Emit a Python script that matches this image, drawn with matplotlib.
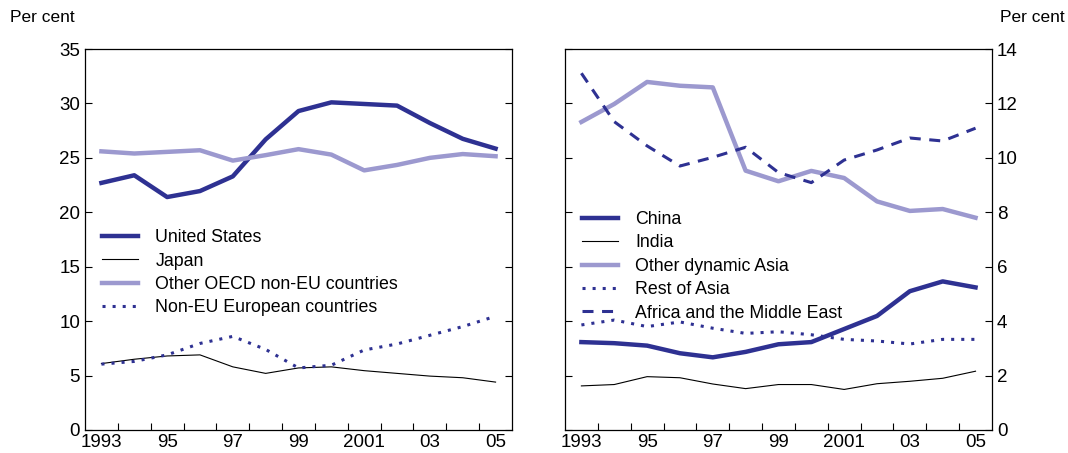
import matplotlib.pyplot as plt
import numpy as np

plt.rcParams['font.family'] = ['Liberation Sans', 'DejaVu Sans']

years = list(range(1993, 2006))
year_labels = ["1993", "95", "97", "99", "2001", "03", "05"]

# left panel
united_states = [22.7, 23.4, 21.4, 21.95, 23.3, 26.7, 29.3, 30.1, 29.95, 29.8, 28.2, 26.75, 25.85]
japan = [6.1, 6.5, 6.8, 6.9, 5.8, 5.2, 5.7, 5.8, 5.45, 5.2, 4.95, 4.8, 4.4]
other_oecd = [25.6, 25.4, 25.55, 25.7, 24.75, 25.25, 25.8, 25.3, 23.85, 24.35, 25.0, 25.35, 25.15]
non_eu_europe = [6.05, 6.3, 6.9, 7.95, 8.6, 7.4, 5.7, 5.95, 7.35, 7.9, 8.7, 9.5, 10.45]

# right panel
china = [3.23, 3.19, 3.1, 2.82, 2.67, 2.87, 3.15, 3.23, 3.71, 4.19, 5.1, 5.46, 5.24]
india = [1.62, 1.67, 1.96, 1.92, 1.69, 1.52, 1.67, 1.67, 1.49, 1.7, 1.79, 1.9, 2.16]
other_dyn_asia = [11.32, 11.98, 12.79, 12.65, 12.59, 9.53, 9.14, 9.52, 9.26, 8.4, 8.05, 8.12, 7.8]
rest_of_asia = [3.86, 4.04, 3.8, 3.97, 3.74, 3.55, 3.61, 3.5, 3.33, 3.27, 3.16, 3.33, 3.33]
africa_me = [13.11, 11.33, 10.44, 9.7, 10.02, 10.39, 9.46, 9.09, 9.92, 10.29, 10.73, 10.62, 11.09]

dark = "#2e3192"
light = "#9c99cf"

fig = plt.figure(figsize=(10.68, 4.53), dpi=100)
ax1 = fig.add_axes([0.0796, 0.0508, 0.3998, 0.841])
ax2 = fig.add_axes([0.529, 0.0508, 0.3998, 0.841])

x = np.arange(len(years))

ax1.plot(x, united_states, color=dark, lw=3.2, label="United States")
ax1.plot(x, japan, color="black", lw=0.8, label="Japan")
ax1.plot(x, other_oecd, color=light, lw=3.2, label="Other OECD non-EU countries")
ax1.plot(x, non_eu_europe, color=dark, lw=2.2, ls=(0, (1, 2.3)), label="Non-EU European countries")

ax2.plot(x, china, color=dark, lw=3.2, label="China")
ax2.plot(x, india, color="black", lw=0.8, label="India")
ax2.plot(x, other_dyn_asia, color=light, lw=3.2, label="Other dynamic Asia")
ax2.plot(x, rest_of_asia, color=dark, lw=2.2, ls=(0, (1, 2.3)), label="Rest of Asia")
ax2.plot(x, africa_me, color=dark, lw=2.2, ls=(0, (3.6, 2.8)), label="Africa and the Middle East")

for ax, ymax, step in [(ax1, 35, 5), (ax2, 14, 2)]:
    ax.set_xlim(-0.5, len(years) - 0.5)
    ax.set_ylim(0, ymax)
    ax.set_yticks(np.arange(0, ymax + 0.1, step))
    ax.set_xticks(x[::2])
    ax.set_xticklabels(year_labels)
    ax.set_xticks(np.arange(0.5, len(years) - 1, 1), minor=True)
    ax.tick_params(axis='x', which='major', length=0, labelsize=13.5, pad=3)
    ax.tick_params(axis='x', which='minor', direction='in', length=5, width=0.8)
    ax.tick_params(axis='y', direction='in', length=5, width=0.8, left=True, right=True,
                   labelsize=13.5)
    for s in ax.spines.values():
        s.set_linewidth(0.9)

ax2.tick_params(axis='y', labelleft=False, labelright=True)

leg_kw = dict(loc='upper left', frameon=False, fontsize=12.8, handlelength=2.0,
              handletextpad=1.0, labelspacing=0.36, borderpad=0, borderaxespad=0)
ax1.legend(bbox_to_anchor=(0.04, 0.527), **leg_kw)
ax2.legend(bbox_to_anchor=(0.04, 0.575), **leg_kw)

fig.text(10 / 1068, 1 - 18 / 453, "Per cent", fontsize=12.5, va='center', ha='left')
fig.text(1065 / 1068, 1 - 18 / 453, "Per cent", fontsize=12.5, va='center', ha='right')

fig.savefig("out.png", dpi=100)
